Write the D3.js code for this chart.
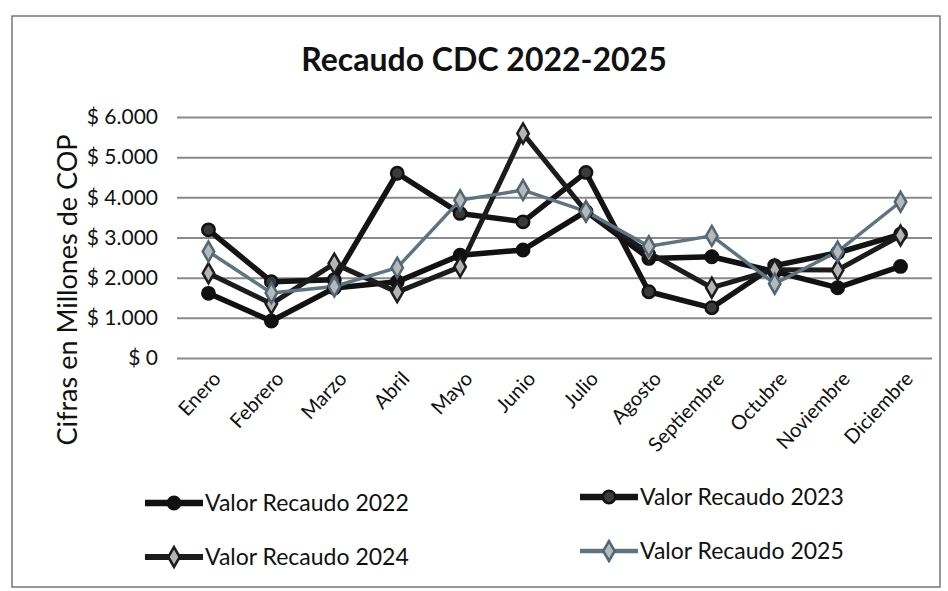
<!DOCTYPE html>
<html>
<head>
<meta charset="utf-8">
<script src="https://cdn.jsdelivr.net/npm/d3@7"></script>
<style>
  html, body { margin: 0; padding: 0; background: #fff; }
  svg { display: block; }
  text { font-family: Lato, "Open Sans", "Liberation Sans", sans-serif; }
</style>
</head>
<body>
<svg id="chart" width="948" height="591"></svg>
<script>
const months = ["Enero","Febrero","Marzo","Abril","Mayo","Junio","Julio","Agosto","Septiembre","Octubre","Noviembre","Diciembre"];
const yTicks = [0, 1000, 2000, 3000, 4000, 5000, 6000];
const seriesNames = ["Valor Recaudo 2022","Valor Recaudo 2023","Valor Recaudo 2024","Valor Recaudo 2025"];
const values2022 = [1610, 920, 1740, 1900, 2560, 2690, 3650, 2480, 2520, 2150, 1750, 2280];
const values2023 = [3190, 1900, 1950, 4600, 3600, 3390, 4620, 1650, 1250, 2300, 2620, 3080];
const values2024 = [2110, 1350, 2350, 1640, 2270, 5590, 3650, 2620, 1750, 2200, 2190, 3050];
const values2025 = [2650, 1620, 1780, 2250, 3930, 4180, 3650, 2780, 3040, 1850, 2650, 3890];

const series = [
  {name: seriesNames[0], values: values2022, line: "#111", lw: 5.5, sym: d3.symbolCircle, fill: "#111", stroke: "#111"},
  {name: seriesNames[1], values: values2023, line: "#141414", lw: 5.5, sym: d3.symbolCircle, fill: "#3a3a3a", stroke: "#111"},
  {name: seriesNames[2], values: values2024, line: "#1c1c1c", lw: 5, sym: d3.symbolDiamond, fill: "#b4b4b4", stroke: "#1c1c1c"},
  {name: seriesNames[3], values: values2025, line: "#5d7482", lw: 3.5, sym: d3.symbolDiamond, fill: "#b8b8b8", stroke: "#4f6878"}
];

const svg = d3.select("#chart");
// outer frame
svg.append("rect").attr("x", 12).attr("y", 16).attr("width", 928).attr("height", 571)
  .attr("fill", "none").attr("stroke", "#777").attr("stroke-width", 1.5);

const x = d3.scalePoint().domain(months).range([177, 932]).padding(0.5);
const y = d3.scaleLinear().domain([0, 6000]).range([358, 117]);

const fmt = v => "$ " + (v === 0 ? "0" : d3.format(",")(v).replace(/,/g, "."));

// gridlines + y labels
const yAxis = d3.axisLeft(y).tickValues(yTicks).tickSize(-755).tickFormat(fmt).tickPadding(19);
const gy = svg.append("g").attr("transform", "translate(177,0)").call(yAxis);
gy.select(".domain").remove();
gy.selectAll(".tick line").attr("stroke", "#8a8a8a").attr("stroke-width", 2);
gy.selectAll(".tick text").attr("font-size", 21).attr("fill", "#111");

// x labels
const xAxis = d3.axisBottom(x).tickSize(0).tickPadding(0);
const gx = svg.append("g").attr("transform", "translate(0,372)").call(xAxis);
gx.select(".domain").remove();
gx.selectAll(".tick text")
  .attr("font-size", 20).attr("fill", "#111")
  .attr("text-anchor", "end").attr("x", 0).attr("y", 0).attr("dy", "0.35em")
  .attr("transform", "translate(8,3) rotate(-47)");

// title
svg.append("text").attr("x", 484).attr("y", 71).attr("text-anchor", "middle")
  .attr("font-size", 32).attr("font-weight", "bold").attr("fill", "#111")
  .text("Recaudo CDC 2022-2025");

// y axis title
svg.append("text").attr("transform", "translate(77,290) rotate(-90)")
  .attr("text-anchor", "middle").attr("font-size", 27).attr("fill", "#111")
  .text("Cifras en Millones de COP");

// lines
const line = d3.line().x((d, i) => x(months[i])).y(d => y(d));
series.forEach(s => {
  svg.append("path").datum(s.values).attr("d", line)
    .attr("fill", "none").attr("stroke", s.line).attr("stroke-width", s.lw)
    .attr("stroke-linejoin", "round");
});
const symSize = s => (s.sym === d3.symbolCircle ? 120 : 115);
series.forEach(s => {
  svg.append("g").selectAll("path").data(s.values).join("path")
    .attr("d", d3.symbol().type(s.sym).size(symSize(s)))
    .attr("transform", (d, i) => `translate(${x(months[i])},${y(d)})`)
    .attr("fill", s.fill).attr("stroke", s.stroke).attr("stroke-width", 2.5);
});

// legend
const legendPos = [[145, 503], [580, 497], [145, 557], [580, 551]];
series.forEach((s, i) => {
  const [lx, ly] = legendPos[i];
  const g = svg.append("g").attr("transform", `translate(${lx},${ly})`);
  g.append("line").attr("x1", 0).attr("x2", 58).attr("y1", 0).attr("y2", 0)
    .attr("stroke", s.line).attr("stroke-width", s.lw + 1);
  g.append("path").attr("d", d3.symbol().type(s.sym).size(symSize(s)))
    .attr("transform", "translate(29,0)")
    .attr("fill", s.fill).attr("stroke", s.stroke).attr("stroke-width", 2.5);
  g.append("text").attr("x", 60).attr("y", 0).attr("dy", "0.35em")
    .attr("font-size", 23).attr("fill", "#111").text(s.name);
});
</script>
</body>
</html>
